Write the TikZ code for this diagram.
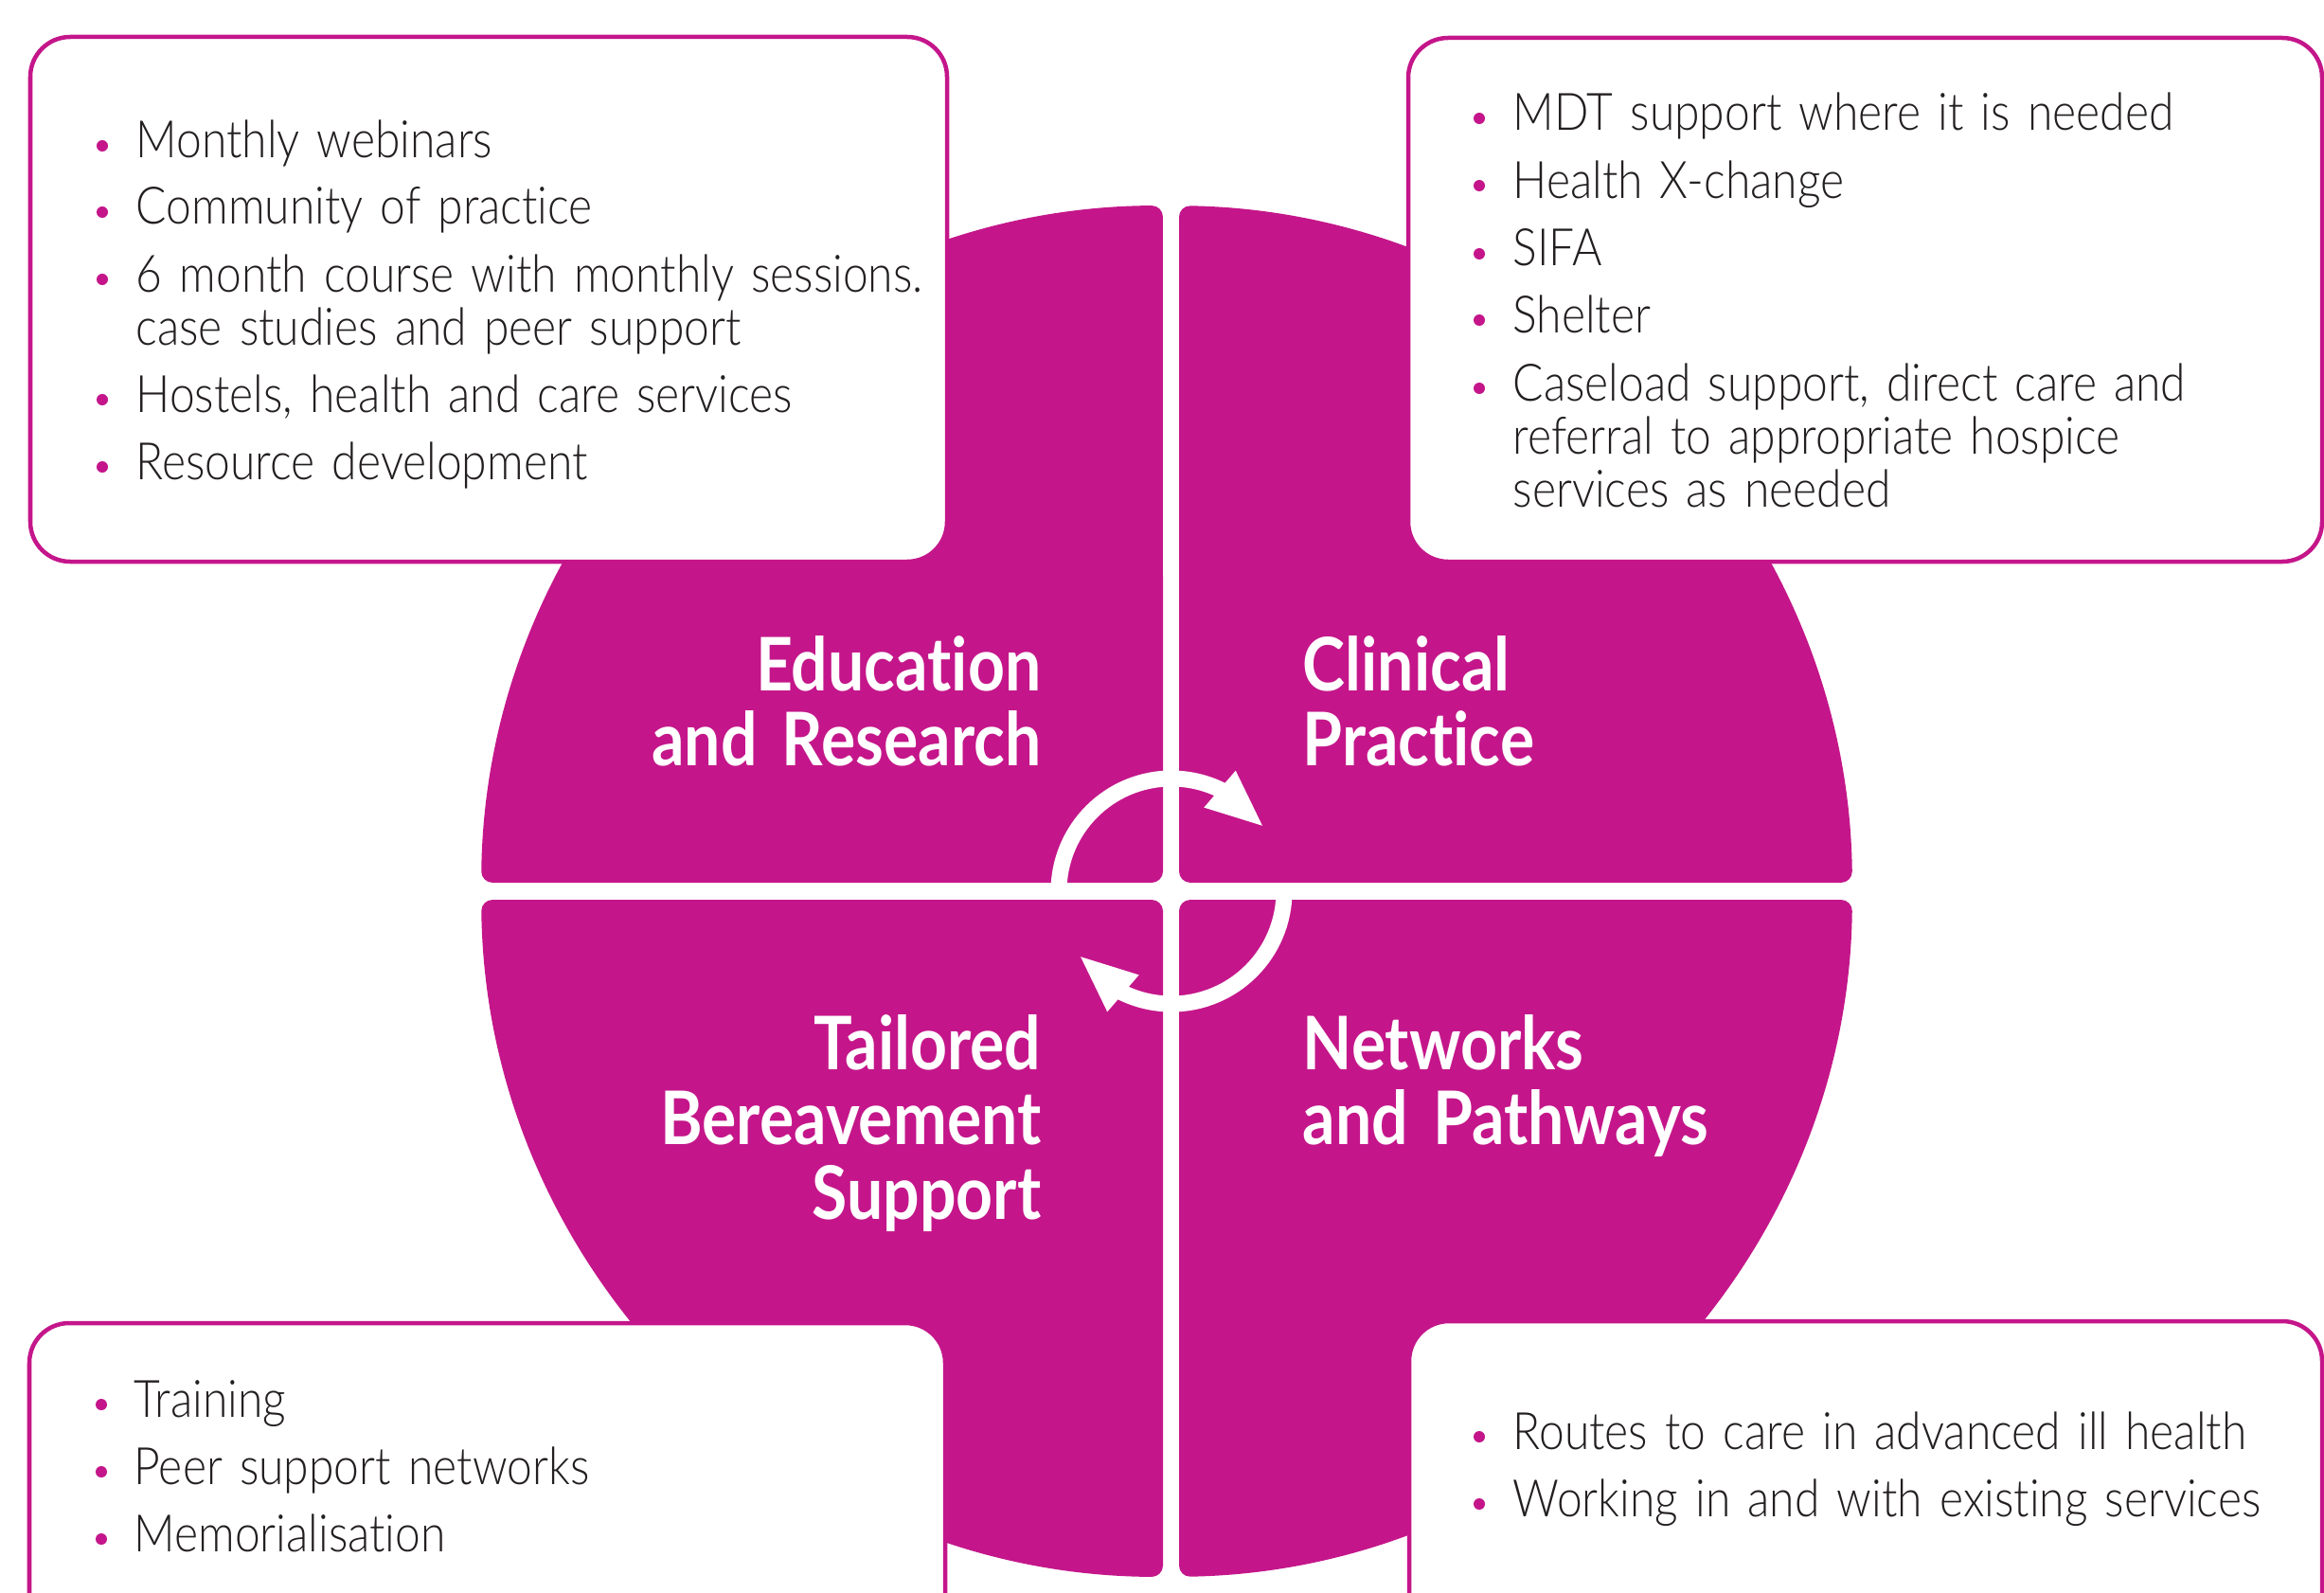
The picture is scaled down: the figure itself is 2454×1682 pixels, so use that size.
\documentclass[tikz,border=0pt]{standalone}
\usepackage{fontspec}
\setmainfont{Lato}
\newfontfamily\bodyfont[FakeStretch=0.88, Ligatures=NoCommon]{Lato Light}
\newfontfamily\headfont[FakeStretch=0.87, Ligatures=NoCommon]{Lato}
\usepackage{xcolor}
\usetikzlibrary{arrows.meta,bending}
\definecolor{brandmag}{RGB}{196,22,138}
\definecolor{inkgray}{RGB}{35,31,32}
\newcommand\headtype{\headfont\bfseries\fontsize{22.2}{22.6}\selectfont\spaceskip=0.2em\relax}
\newcommand\itemtype{\bodyfont\fontsize{15.5}{15.93}\selectfont\spaceskip=0.16em\relax}

\begin{document}
\begin{tikzpicture}[x=0.01cm, y=-0.01cm,
quad/.style={fill=brandmag, rounded corners=0.12cm},
info box/.style={draw=brandmag, fill=white, line width=0.045cm, rounded corners=0.42cm},
cycle arrow/.style={draw=white, line width=0.17cm, -{Triangle[length=0.62cm, width=0.46cm]}},
heading/.style={text=white, inner sep=0, font=\headtype, text width=7cm},
item/.style={text=inkgray, inner sep=0, anchor=base west, align=left, text width=12cm, font=\itemtype},
dot/.style={circle, fill=brandmag, inner sep=0, minimum size=0.12cm}]
\useasboundingbox (0,0) rectangle (2454,1682);

% four quarters of the disc
\fill[quad] (1245,932) -- (1245,217.1) arc[start angle=-88.97, end angle=-0.71, radius=724] -- cycle;
\fill[quad] (1228,932) -- (508.1,932) arc[start angle=-179.29, end angle=-90.32, radius=724] -- cycle;
\fill[quad] (1228,950) -- (1228,1665) arc[start angle=-269.68, end angle=-180.71, radius=724] -- cycle;
\fill[quad] (1245,950) -- (1955.9,950) arc[start angle=0.71, end angle=88.97, radius=724] -- cycle;

% turning arrows
\draw[cycle arrow] (1118,941) arc[start angle=-180, end angle=-34.5, radius=119];
\draw[cycle arrow] (1356,941) arc[start angle=0, end angle=145.5, radius=119];

% headings
\node[heading, anchor=base east, align=right] (edu) at (1100,729) {Education\\and Research};
\node[heading, anchor=base west, align=left] (clin) at (1375,729) {Clinical\\Practice};
\node[heading, anchor=base east, align=right] (bere) at (1100,1129) {Tailored\\Bereavement\\Support};
\node[heading, anchor=base west, align=left] (netw) at (1375,1129) {Networks\\and Pathways};

% boxes
\draw[info box] (32,39) rectangle (1000,593);
\draw[info box] (1487,40) rectangle (2452,593);
\draw[info box] (31,1397) rectangle (998,1760);
\draw[info box] (1488,1395) rectangle (2452,1760);

% top left
\node[item] (tl1) at (143,167) {Monthly webinars};
\node[item] (tl2) at (143,237) {Community of practice};
\node[item] (tl3) at (143,308) {6 month course with monthly sessions.\\case studies and peer support};
\node[item] (tl4) at (143,435) {Hostels, health and care services};
\node[item] (tl5) at (143,506) {Resource development};
\node[dot] (d1) at (108,154) {};
\node[dot] (d2) at (108,224) {};
\node[dot] (d3) at (108,295) {};
\node[dot] (d4) at (108,422) {};
\node[dot] (d5) at (108,493) {};

% top right
\node[item] (tr1) at (1597,138) {MDT support where it is needed};
\node[item] (tr2) at (1597,209) {Health X-change};
\node[item] (tr3) at (1597,281) {SIFA};
\node[item] (tr4) at (1597,351) {Shelter};
\node[item] (tr5) at (1597,423) {Caseload support, direct care and\\referral to appropriate hospice\\services as needed};
\node[dot] (d6) at (1562,125) {};
\node[dot] (d7) at (1562,196) {};
\node[dot] (d8) at (1562,268) {};
\node[dot] (d9) at (1562,338) {};
\node[dot] (d10) at (1562,410) {};

% bottom left
\node[item] (bl1) at (141,1496) {Training};
\node[item] (bl2) at (141,1567) {Peer support networks};
\node[item] (bl3) at (141,1638) {Memorialisation};
\node[dot] (d11) at (107,1483) {};
\node[dot] (d12) at (107,1554) {};
\node[dot] (d13) at (107,1625) {};

% bottom right
\node[item] (br1) at (1597,1530) {Routes to care in advanced ill health};
\node[item] (br2) at (1597,1601) {Working in and with existing services};
\node[dot] (d14) at (1562,1517) {};
\node[dot] (d15) at (1562,1588) {};
\end{tikzpicture}
\end{document}
